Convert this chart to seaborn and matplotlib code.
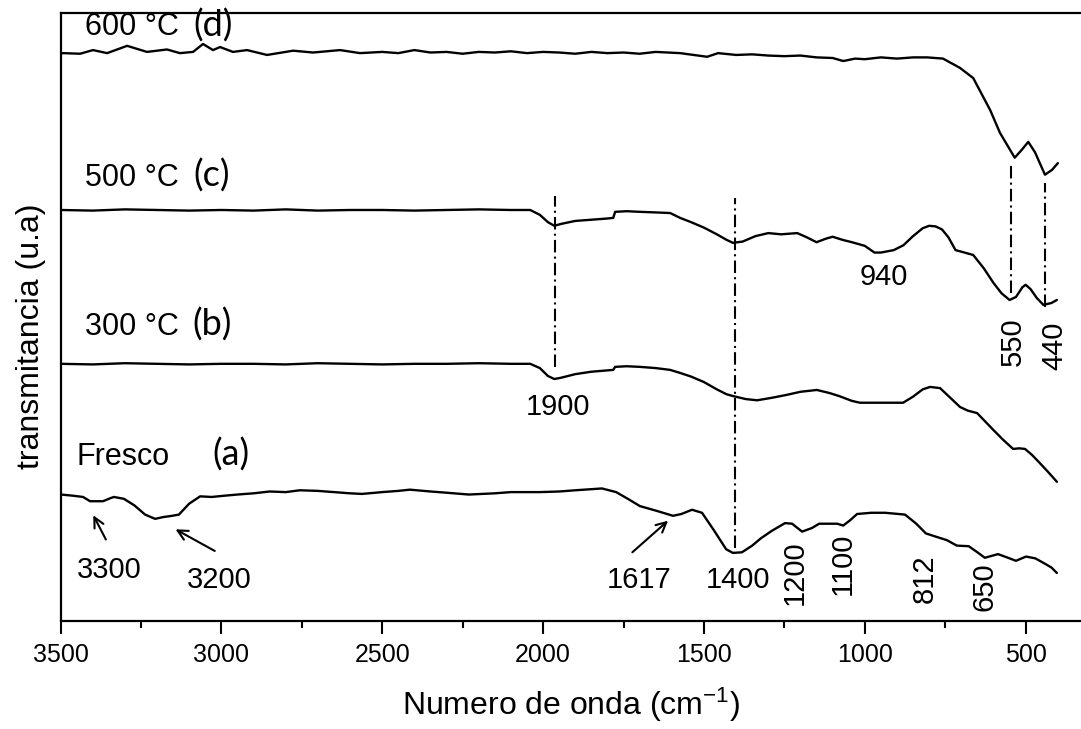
import numpy as np
import pandas as pd
import matplotlib
matplotlib.use("Agg")
import matplotlib.pyplot as plt
from matplotlib.ticker import MultipleLocator
import seaborn as sns

# ---------------- data ----------------
wn_d = [3500, 3492, 3439, 3399, 3355, 3293, 3231, 3169, 3129, 3088, 3057, 3026, 3004, 2964, 2920,
        2858, 2777, 2715, 2631, 2569, 2500, 2450, 2400, 2350, 2300, 2250, 2200, 2150, 2100, 2050,
        2000, 1950, 1900, 1850, 1800, 1750, 1700, 1650, 1574, 1490, 1456, 1400, 1350, 1300, 1250,
        1200, 1150, 1100, 1067, 1030, 1000, 950, 900, 850, 806, 757, 705, 663, 610, 580, 534,
        512, 492, 471, 440, 418, 400]
t_d = [93.3, 93.4, 93.3, 93.9, 93.4, 94.6, 93.6, 94.0, 93.4, 93.6, 94.9, 93.9, 94.4, 93.6, 93.9,
       93.1, 93.8, 93.5, 93.9, 93.4, 93.6, 93.4, 93.9, 93.5, 93.6, 93.3, 93.6, 93.5, 93.7, 93.4,
       93.6, 93.5, 93.3, 93.6, 93.4, 93.5, 93.3, 93.6, 93.4, 92.8, 93.4, 93.1, 93.2, 93.0, 92.9,
       93.0, 92.7, 92.6, 92.1, 92.5, 92.4, 92.7, 92.5, 92.7, 92.7, 92.5, 91.0, 89.3, 84.0, 80.3, 76.2,
       77.5, 78.8, 77.1, 73.4, 74.2, 75.3]

wn_c = [3500, 3400, 3300, 3200, 3100, 3000, 2900, 2800, 2700, 2600, 2500, 2400, 2300, 2200, 2100,
        2040, 2010, 1985, 1965, 1945, 1900, 1850, 1800, 1782, 1776, 1740, 1700, 1650, 1605, 1574,
        1540, 1500, 1460, 1430, 1410, 1380, 1340, 1300, 1260, 1210, 1180, 1150, 1120, 1100, 1070,
        1040, 1000, 970, 950, 910, 880, 850, 820, 800, 780, 760, 740, 718, 690, 663, 630, 600,
        575, 550, 530, 510, 500, 485, 465, 445, 420, 403]
t_c = [67.6, 67.5, 67.7, 67.6, 67.5, 67.6, 67.5, 67.7, 67.5, 67.6, 67.6, 67.5, 67.6, 67.7, 67.6,
       67.6, 66.8, 65.6, 65.0, 65.3, 65.8, 66.0, 66.2, 66.3, 67.3, 67.4, 67.3, 67.2, 67.1, 66.3,
       65.6, 64.7, 63.6, 62.7, 62.2, 62.4, 63.3, 63.8, 63.6, 63.8, 63.1, 62.3, 62.9, 63.2, 62.7,
       62.3, 61.7, 60.6, 60.6, 61.0, 61.8, 63.3, 64.6, 65.0, 64.9, 64.4, 63.1, 61.0, 60.6, 60.2,
       58.0, 55.6, 53.9, 52.8, 53.3, 54.9, 55.3, 54.6, 53.1, 52.0, 52.3, 52.8]

wn_b = [3500, 3400, 3300, 3200, 3100, 3000, 2900, 2800, 2700, 2600, 2500, 2400, 2300, 2200, 2100,
        2040, 2010, 1985, 1965, 1945, 1900, 1850, 1782, 1776, 1740, 1700, 1650, 1605, 1574, 1540,
        1500, 1460, 1430, 1410, 1370, 1335, 1290, 1242, 1200, 1149, 1110, 1080, 1040, 1015, 950,
        881, 850, 820, 797, 766, 740, 704, 680, 651, 620, 600, 570, 539, 520, 502, 480, 460, 430, 403]
t_b = [42.3, 42.2, 42.4, 42.3, 42.2, 42.3, 42.3, 42.2, 42.4, 42.3, 42.2, 42.3, 42.3, 42.4, 42.3,
       42.3, 41.6, 40.3, 39.8, 40.0, 40.6, 41.0, 41.3, 41.8, 41.9, 41.8, 41.6, 41.3, 40.8, 40.2,
       39.3, 38.1, 37.3, 37.0, 36.5, 36.3, 36.7, 37.2, 37.7, 38.0, 37.5, 37.0, 36.2, 35.9, 35.9,
       35.9, 36.9, 38.1, 38.5, 38.3, 37.0, 35.2, 34.6, 34.2, 32.5, 31.4, 29.8, 28.3, 28.4, 28.3,
       27.3, 26.2, 24.5, 22.9]

wn_a = [3498, 3460, 3430, 3408, 3368, 3345, 3334, 3303, 3270, 3237, 3206, 3180, 3153, 3132, 3100,
        3066, 3030, 2992, 2950, 2900, 2850, 2800, 2756, 2700, 2650, 2600, 2563, 2500, 2450, 2414,
        2350, 2300, 2231, 2150, 2100, 2010, 1950, 1900, 1817, 1773, 1740, 1699, 1646, 1596, 1570,
        1537, 1506, 1470, 1431, 1410, 1382, 1350, 1323, 1290, 1248, 1226, 1195, 1164, 1142, 1086,
        1067, 1045, 1024, 980, 937, 875, 840, 810, 775, 745, 714, 677, 650, 627, 586, 560, 530,
        499, 470, 446, 420, 403]
t_a = [20.8, 20.6, 20.4, 19.7, 19.7, 20.2, 20.4, 20.1, 19.0, 17.5, 16.8, 17.1, 17.3, 17.5, 19.3,
       20.5, 20.4, 20.6, 20.8, 21.0, 21.3, 21.2, 21.5, 21.4, 21.2, 21.0, 20.9, 21.2, 21.4, 21.6,
       21.3, 21.1, 20.8, 21.0, 21.2, 21.2, 21.3, 21.5, 21.8, 21.2, 20.2, 18.9, 18.1, 17.3, 17.6,
       18.3, 17.8, 15.0, 11.8, 11.2, 11.3, 12.4, 13.6, 14.8, 16.1, 16.0, 14.7, 15.3, 16.0, 16.0,
       15.7, 16.6, 17.6, 17.8, 17.8, 17.5, 16.0, 14.4, 13.8, 13.3, 12.4, 12.3, 11.3, 10.4, 11.0,
       10.5, 9.9, 10.6, 10.3, 9.6, 8.8, 7.9]

# marker lines (dash-dot) : position, top, bottom
mark_pos = [1963, 1404, 545, 441]
mark_top = [69.9, 69.6, 75.3, 72.0]
mark_bot = [41.8, 12.0, 53.9, 51.6]

series_names = ["600 \u00b0C", "500 \u00b0C", "300 \u00b0C", "Fresco"]
series_tags = ["(d)", "(c)", "(b)", "(a)"]
tick_values = [3500, 3000, 2500, 2000, 1500, 1000, 500]

# peak labels: text, x, y, rotation
peak_text = ["3300", "3200", "1617", "1400", "1200", "1100", "812", "650", "940", "1900", "550", "440"]
peak_x = [3349, 3007, 1702, 1394, 1217, 1068, 813, 627, 940, 1953, 539, 411]
peak_y = [8.4, 6.7, 6.7, 6.7, 7.9, 9.4, 6.9, 5.6, 56.6, 35.2, 45.9, 45.2]
peak_rot = [0, 0, 0, 0, 90, 90, 90, 90, 0, 0, 90, 90]

# arrows: (tail x, tail y) -> (head x, head y)
arrow_from = [(3355, 13.0), (3013, 11.3), (1729, 11.0)]
arrow_to = [(3402, 17.8), (3150, 15.3), (1605, 16.8)]

# ---------------- figure ----------------
sns.set_style("white")
plt.rcParams["font.family"] = ["Liberation Sans", "DejaVu Sans"]
plt.rcParams["mathtext.fontset"] = "custom"
plt.rcParams["mathtext.rm"] = "Liberation Sans"
plt.rcParams["mathtext.it"] = "Liberation Sans:italic"
plt.rcParams["text.color"] = "black"
plt.rcParams["axes.labelcolor"] = "black"
plt.rcParams["xtick.color"] = "black"
plt.rcParams["ytick.color"] = "black"

fig = plt.figure(figsize=(10.81, 7.29), dpi=100)
ax = fig.add_axes([60.5 / 1081, (729 - 621) / 729, 1 - 60.5 / 1081, (621 - 13) / 729])

frames = []
for name, wn, t in zip(series_names, [wn_d, wn_c, wn_b, wn_a], [t_d, t_c, t_b, t_a]):
    frames.append(pd.DataFrame({"wn": wn, "t": t, "serie": name}))
df = pd.concat(frames, ignore_index=True)

sns.lineplot(data=df, x="wn", y="t", units="serie", estimator=None, sort=False,
             color="black", linewidth=1.7, ax=ax, legend=False)

for xp, yt, yb in zip(mark_pos, mark_top, mark_bot):
    ax.plot([xp, xp], [yb, yt], color="black", linewidth=1.5, linestyle=(0, (6, 2, 1, 2)))

ax.set_xlim(3500, 328)
ax.set_ylim(0, 100)
ax.set_xticks(tick_values)
ax.xaxis.set_minor_locator(MultipleLocator(250))
ax.set_yticks([])
ax.tick_params(axis="x", which="major", direction="out", length=9, width=1.5,
               labelsize=18, pad=7, bottom=True, colors="black")
ax.tick_params(axis="x", which="minor", direction="out", length=5, width=1.5, bottom=True)
for s in ["left", "bottom", "top"]:
    ax.spines[s].set_linewidth(1.6)
    ax.spines[s].set_color("black")
ax.spines["right"].set_visible(False)

ax.set_xlabel("Numero de onda (cm$^{-1}$)", fontsize=23, labelpad=13)
ax.set_ylabel("transmitancia (u.a)", fontsize=23)
ax.yaxis.set_label_coords(-0.014, 0.469)

# series labels
name_y = [97.7, 72.9, 48.4, 27.0]
name_x = [3424, 3424, 3424, 3449]
tag_x = [3088, 3088, 3091, 3029]
for n, tg, nx, tx, ny in zip(series_names, series_tags, name_x, tag_x, name_y):
    ax.text(nx, ny, n, fontsize=22, ha="left", va="center")
    ax.text(tx, ny + 0.3, tg, fontsize=26, ha="left", va="center", family=["Lato", "DejaVu Sans"])

for txt, x, y, r in zip(peak_text, peak_x, peak_y, peak_rot):
    ax.text(x, y, txt, fontsize=21, ha="center", va="center", rotation=r)

for (x0, y0), (x1, y1) in zip(arrow_from, arrow_to):
    ax.annotate("", xy=(x1, y1), xytext=(x0, y0),
                arrowprops=dict(arrowstyle="->", color="black", lw=1.5, mutation_scale=18))

fig.savefig("out.png", dpi=100, facecolor="white")
